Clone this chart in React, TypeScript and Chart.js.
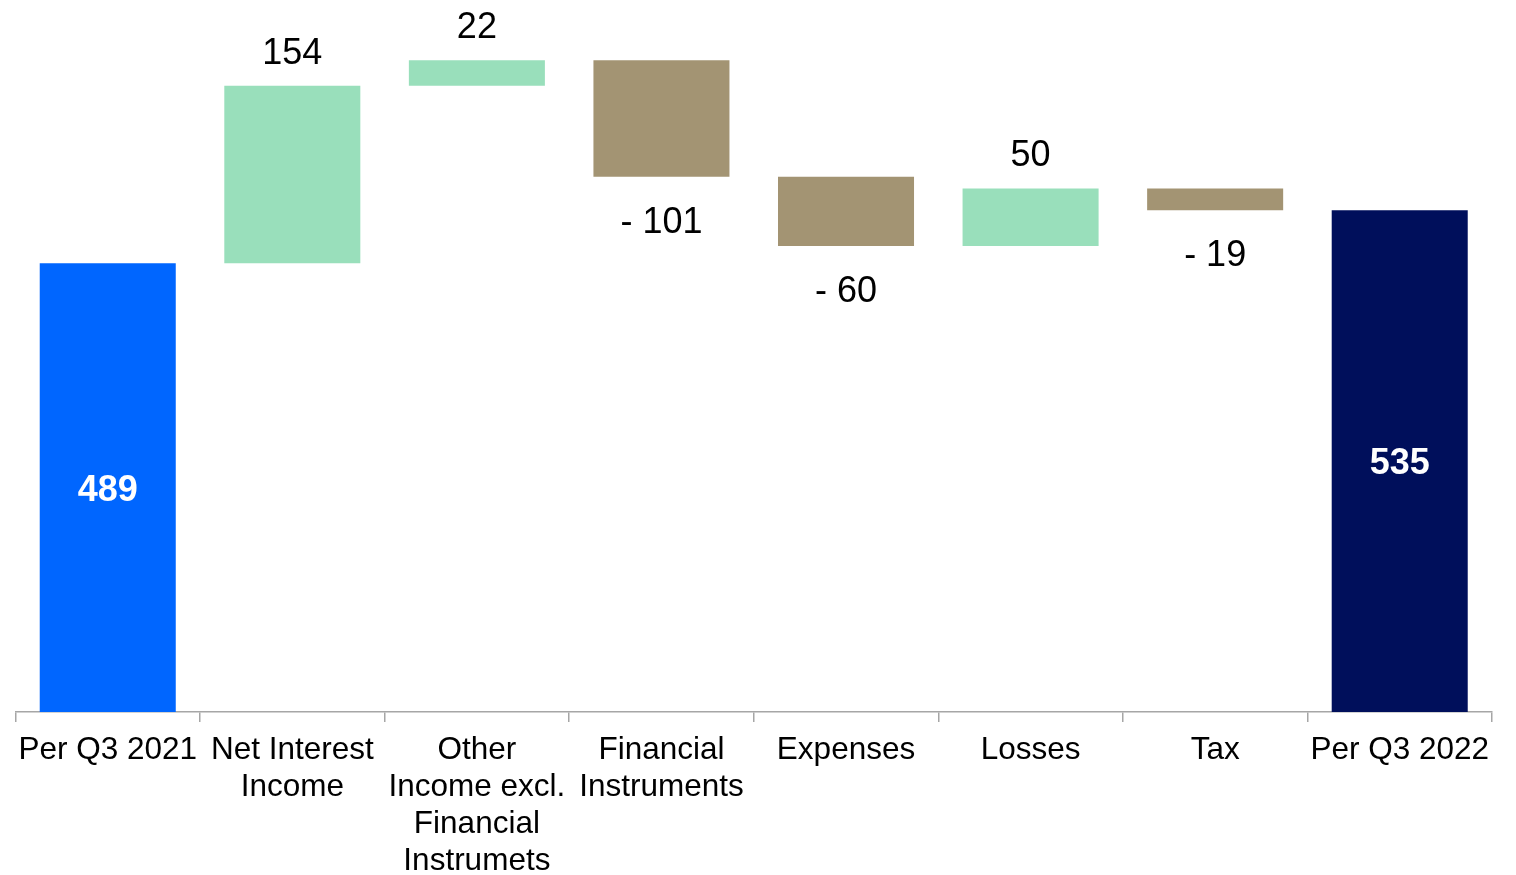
import React, { useEffect, useRef } from "react";
import { Chart, registerables } from "chart.js";

Chart.register(...registerables);

const categories: string[][] = [
  ["Per Q3 2021"],
  ["Net Interest", "Income"],
  ["Other", "Income excl.", "Financial", "Instrumets"],
  ["Financial", "Instruments"],
  ["Expenses"],
  ["Losses"],
  ["Tax"],
  ["Per Q3 2022"],
];
const startValue = 489;
const deltas = [154, 22, -101, -60, 50, -19];
const endValue = 535;
const yMin = 100;
const yMax = 700;

const COLOR_START = "#0066FF";
const COLOR_END = "#000F5B";
const COLOR_POS = "#99DFBB";
const COLOR_NEG = "#A39473";
const FONT = "'Liberation Sans', Arial, sans-serif";

export default function App() {
  const ref = useRef<HTMLCanvasElement | null>(null);

  useEffect(() => {
    document.documentElement.style.overflow = "hidden";
    document.body.style.overflow = "hidden";
    if (!ref.current) return;
    const ranges: [number, number][] = [];
    const colors: string[] = [];
    const labels: string[] = [];
    ranges.push([0, startValue]);
    colors.push(COLOR_START);
    labels.push(String(startValue));
    let run = startValue;
    deltas.forEach((d) => {
      const next = run + d;
      ranges.push([Math.min(run, next), Math.max(run, next)]);
      colors.push(d >= 0 ? COLOR_POS : COLOR_NEG);
      labels.push(d >= 0 ? String(d) : "- " + Math.abs(d));
      run = next;
    });
    ranges.push([0, endValue]);
    colors.push(COLOR_END);
    labels.push(String(endValue));

    const labelPlugin = {
      id: "wfLabels",
      afterDatasetsDraw(chart: any) {
        const ctx = chart.ctx;
        const meta = chart.getDatasetMeta(0);
        const area = chart.chartArea;
        ctx.save();
        ctx.textAlign = "center";
        meta.data.forEach((bar: any, i: number) => {
          const x = bar.x;
          const top = Math.min(bar.y, bar.base);
          const bottom = Math.max(bar.y, bar.base);
          if (i === 0 || i === ranges.length - 1) {
            const visBottom = Math.min(bottom, area.bottom);
            ctx.font = `bold 36px ${FONT}`;
            ctx.fillStyle = "#FFFFFF";
            ctx.textBaseline = "alphabetic";
            ctx.fillText(labels[i], x, (top + visBottom) / 2 + 13);
          } else {
            const d = deltas[i - 1];
            ctx.font = `36px ${FONT}`;
            ctx.fillStyle = "#000000";
            ctx.textBaseline = "alphabetic";
            if (d >= 0) {
              ctx.fillText(labels[i], x, top - 22);
            } else {
              ctx.fillText(labels[i], x, bottom + 56);
            }
          }
        });
        ctx.restore();
      },
    };

    const chart = new Chart(ref.current, {
      type: "bar",
      data: {
        labels: categories,
        datasets: [
          {
            data: ranges as any,
            backgroundColor: colors,
            borderWidth: 0,
            categoryPercentage: 1,
            barPercentage: 0.737,
          },
        ],
      },
      options: {
        animation: false,
        responsive: true,
        maintainAspectRatio: false,
        layout: { padding: { top: 12, left: 7, right: 16, bottom: 0 } },
        plugins: {
          legend: { display: false },
          tooltip: { enabled: false },
        },
        scales: {
          x: {
            offset: true,
            grid: {
              offset: true,
              drawOnChartArea: false,
              drawTicks: true,
              tickLength: 10,
              color: "#A6A6A6",
              lineWidth: 1.5,
            },
            border: { display: true, color: "#A6A6A6", width: 1.5 },
            ticks: {
              color: "#000000",
              font: { family: FONT, size: 31.5, lineHeight: 1.175 },
              padding: 10,
              maxRotation: 0,
              autoSkip: false,
            },
            afterFit(scale: any) {
              scale.height = 163;
            },
          },
          y: {
            display: false,
            min: yMin,
            max: yMax,
          },
        },
      },
      plugins: [labelPlugin],
    });
    return () => chart.destroy();
  }, []);

  return (
    <div style={{ width: 1500, height: 867, position: "relative" }}>
      <canvas ref={ref} />
    </div>
  );
}
